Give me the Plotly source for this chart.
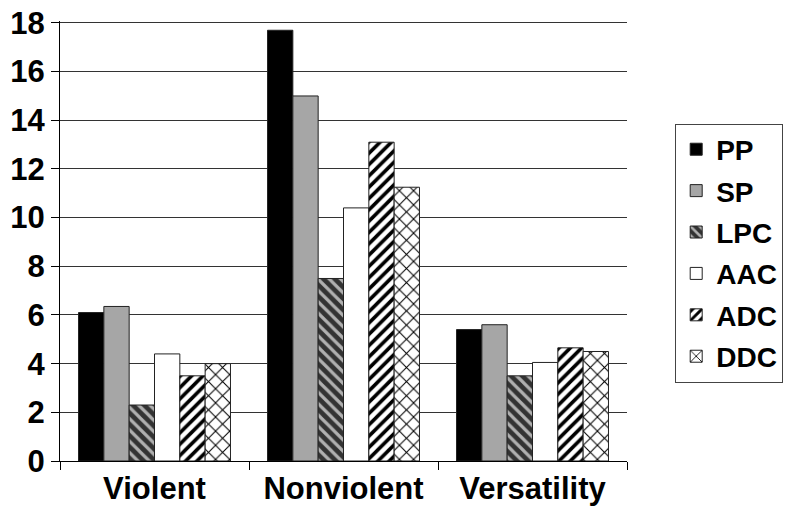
import plotly.graph_objects as go

categories = ["Violent", "Nonviolent", "Versatility"]
series_names = ["PP", "SP", "LPC", "AAC", "ADC", "DDC"]
pp = [6.1, 17.7, 5.4]
sp = [6.35, 15.0, 5.6]
lpc = [2.3, 7.5, 3.5]
aac = [4.4, 10.4, 4.05]
adc = [3.5, 13.1, 4.65]
ddc = [4.0, 11.25, 4.5]
y_ticks = [0, 2, 4, 6, 8, 10, 12, 14, 16, 18]

series_values = [pp, sp, lpc, aac, adc, ddc]
styles = [
    dict(color="#000000"),
    dict(color="#a6a6a6"),
    dict(color="#333333", pattern=dict(shape="\\", bgcolor="#333333", fgcolor="#b0b0b0", size=8, solidity=0.4, fillmode="replace")),
    dict(color="#ffffff"),
    dict(color="#ffffff", pattern=dict(shape="/", bgcolor="#ffffff", fgcolor="#000000", size=8, solidity=0.45, fillmode="replace")),
    dict(color="#ffffff", pattern=dict(shape="x", bgcolor="#ffffff", fgcolor="#000000", size=10, solidity=0.2, fillmode="replace")),
]

fig = go.Figure()
for name, vals, st in zip(series_names, series_values, styles):
    marker = dict(color=st["color"], line=dict(color="#222222", width=1))
    if "pattern" in st:
        marker["pattern"] = st["pattern"]
    fig.add_trace(go.Bar(name=name, x=categories, y=vals, marker=marker, legendgroup=name))

font_family = "Liberation Sans, Arial, sans-serif"
fig.update_layout(
    width=800, height=524,
    margin=dict(l=60, r=173, t=21, b=63, autoexpand=False),
    paper_bgcolor="white", plot_bgcolor="white",
    barmode="group", bargap=0.196, bargroupgap=0,
    font=dict(family=font_family, color="#000000", size=28, weight="bold"),
    legend=dict(
        x=1.085, y=0.767, xanchor="left", yanchor="top",
        bordercolor="#444444", borderwidth=1,
        font=dict(family=font_family, size=28, weight="bold"),
        tracegroupgap=2,
    ),
    xaxis=dict(
        showline=True, linecolor="#000000", linewidth=1,
        ticks="outside", ticklen=8, tickcolor="#000000",
        tickson="boundaries", automargin=False,
        tickfont=dict(family=font_family, size=31, weight="bold"),
        showgrid=False,
    ),
    yaxis=dict(
        range=[0, 18.08],
        tickvals=y_ticks, automargin=False,
        showline=True, linecolor="#000000", linewidth=1,
        ticks="outside", ticklen=8, tickcolor="#000000",
        tickfont=dict(family=font_family, size=31, weight="bold"),
        showgrid=True, gridcolor="#333333", gridwidth=1,
        zeroline=False,
    ),
)

fig.write_html(
    "out.html",
    config={"displayModeBar": False},
    post_script="document.body.style.margin='0px';",
)
